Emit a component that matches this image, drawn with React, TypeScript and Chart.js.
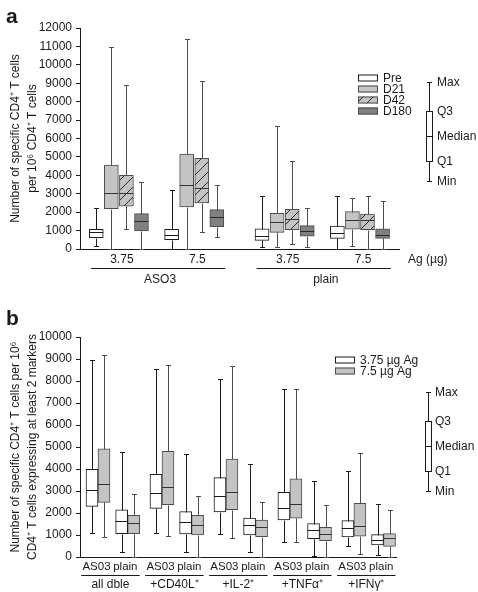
import React, { useEffect, useRef } from "react";
import { Chart, registerables } from "chart.js";

Chart.register(...registerables);

const FONT = "'Liberation Sans', Arial, Helvetica, sans-serif";
const INK = "#1a1a1a";
const GRAYLINE = "#4d4d4d";

// ---------------- Panel a data ----------------
const aDoseLabels = ["3.75", "7.5", "3.75", "7.5"];
const aAdjuvantLabels = ["ASO3", "plain"];
const aSeriesNames = ["Pre", "D21", "D42", "D180"];
// each box: [min, Q1, median, Q3, max]
const aPre = [[180, 620, 900, 1070, 2210], [0, 510, 780, 1070, 3200], [90, 470, 690, 1090, 2880], [0, 580, 870, 1250, 2900]];
const aD21 = [[0, 2190, 3040, 4560, 10970], [0, 2280, 3490, 5160, 11400], [130, 900, 1440, 1940, 6700], [180, 1070, 1560, 2030, 2750]];
const aD42 = [[1090, 2330, 3060, 4000, 8890], [940, 2500, 3330, 4920, 9140], [250, 1050, 1620, 2150, 4800], [0, 1050, 1570, 1900, 2900]];
const aD180 = [[0, 980, 1540, 1920, 3660], [630, 1210, 1740, 2140, 3480], [130, 690, 960, 1270, 2210], [0, 580, 780, 1090, 2590]];
const aYMax = 12000;
const aYStep = 1000;
const aYTitle = ["Number of specific CD4\u207A T cells", "per 10\u2076 CD4\u207A T cells"];
const aXUnit = "Ag (\u00B5g)";

// ---------------- Panel b data ----------------
const bGroupLabels = ["all dble", "+CD40L\u207A", "+IL-2\u207A", "+TNF\u03B1\u207A", "+IFN\u03B3\u207A"];
const bSubLabels = ["AS03", "plain"];
const bSeriesNames = ["3.75 \u00B5g Ag", "7.5 \u00B5g Ag"];
// order: group0 AS03, group0 plain, group1 AS03, ...; each box [min, Q1, median, Q3, max]
const bLowDose = [
  [1100, 2300, 3030, 3980, 8950], [230, 1060, 1620, 2140, 4790],
  [1090, 2210, 2920, 3760, 8550], [230, 1050, 1580, 2060, 4670],
  [1060, 2050, 2760, 3610, 8090], [240, 1000, 1470, 1770, 4210],
  [680, 1680, 2210, 2940, 7650], [30, 830, 1230, 1520, 3470],
  [480, 910, 1300, 1650, 3920], [80, 550, 760, 1020, 2390],
];
const bHighDose = [
  [920, 2480, 3300, 4920, 9200], [0, 1060, 1550, 1890, 2880],
  [940, 2380, 3170, 4800, 8730], [0, 1000, 1460, 1890, 2790],
  [860, 2150, 2970, 4450, 8670], [0, 920, 1350, 1680, 2520],
  [670, 1770, 2410, 3550, 7620], [0, 740, 1030, 1350, 2380],
  [150, 950, 1390, 2440, 4740], [0, 480, 850, 1060, 2120],
];
const bYMax = 10000;
const bYStep = 1000;
const bYTitle = ["Number of specific CD4\u207A T cells per 10\u2076", "CD4\u207A T cells expressing at least 2 markers"];

const keyLabels = ["Max", "Q3", "Median", "Q1", "Min"];

// ---------------- helpers ----------------
function makeHatch(bg: string, line: string): CanvasPattern | string {
  const size = 10;
  const c = document.createElement("canvas");
  c.width = size;
  c.height = size;
  const g = c.getContext("2d");
  if (!g) return bg;
  g.fillStyle = bg;
  g.fillRect(0, 0, size, size);
  g.strokeStyle = line;
  g.lineWidth = 1;
  g.beginPath();
  g.moveTo(0, size);
  g.lineTo(size, 0);
  g.moveTo(-2, 2);
  g.lineTo(2, -2);
  g.moveTo(size - 2, size + 2);
  g.lineTo(size + 2, size - 2);
  g.stroke();
  const p = g.createPattern(c, "repeat");
  return p || bg;
}

const boxPlugin = {
  id: "boxWhisker",
  afterDatasetsDraw(chart: any) {
    const ctx = chart.ctx;
    const yS = chart.scales.y;
    ctx.save();
    ctx.lineWidth = 1;
    chart.data.datasets.forEach((ds: any, di: number) => {
      const meta = chart.getDatasetMeta(di);
      meta.data.forEach((el: any, i: number) => {
        const st = ds.stats[i];
        const x = Math.round(el.x) + 0.5;
        const half = el.width / 2;
        const py = (v: number) => Math.round(yS.getPixelForValue(v)) + 0.5;
        const pMin = py(st[0]);
        const pQ1 = py(st[1]);
        const pMed = py(st[2]);
        const pQ3 = py(st[3]);
        const pMax = py(st[4]);
        ctx.strokeStyle = ds.whiskerColor;
        ctx.beginPath();
        ctx.moveTo(x, pQ3);
        ctx.lineTo(x, pMax);
        ctx.moveTo(x - 2.5, pMax);
        ctx.lineTo(x + 2.5, pMax);
        ctx.moveTo(x, pQ1);
        ctx.lineTo(x, pMin);
        ctx.moveTo(x - 2.5, pMin);
        ctx.lineTo(x + 2.5, pMin);
        ctx.stroke();
        ctx.strokeStyle = ds.medianColor;
        ctx.beginPath();
        ctx.moveTo(el.x - half, pMed);
        ctx.lineTo(el.x + half, pMed);
        ctx.stroke();
      });
    });
    ctx.restore();
  },
};

function drawKey(ctx: CanvasRenderingContext2D, x: number, ys: number[], labelX: number) {
  // ys: max, q3, median, q1, min
  ctx.save();
  ctx.strokeStyle = INK;
  ctx.lineWidth = 1;
  const cx = Math.round(x) + 0.5;
  ctx.beginPath();
  ctx.moveTo(cx, ys[0]);
  ctx.lineTo(cx, ys[1]);
  ctx.moveTo(cx - 2.5, ys[0] + 0.5);
  ctx.lineTo(cx + 2.5, ys[0] + 0.5);
  ctx.moveTo(cx, ys[3]);
  ctx.lineTo(cx, ys[4]);
  ctx.moveTo(cx - 2.5, ys[4] + 0.5);
  ctx.lineTo(cx + 2.5, ys[4] + 0.5);
  ctx.stroke();
  ctx.fillStyle = "#ffffff";
  ctx.fillRect(cx - 3, ys[1], 6, ys[3] - ys[1]);
  ctx.strokeRect(cx - 3, ys[1] + 0.5, 6, ys[3] - ys[1]);
  ctx.beginPath();
  ctx.moveTo(cx - 3, ys[2] + 0.5);
  ctx.lineTo(cx + 3, ys[2] + 0.5);
  ctx.stroke();
  ctx.fillStyle = INK;
  ctx.font = `12px ${FONT}`;
  ctx.textAlign = "left";
  ctx.textBaseline = "middle";
  keyLabels.forEach((t, i) => ctx.fillText(t, labelX, ys[i] + 1));
  ctx.restore();
}

function drawSwatch(ctx: CanvasRenderingContext2D, x: number, y: number, w: number, h: number, fill: any, border: string) {
  ctx.save();
  ctx.fillStyle = fill;
  ctx.fillRect(x, y, w, h);
  ctx.strokeStyle = border;
  ctx.lineWidth = 1;
  ctx.strokeRect(x + 0.5, y + 0.5, w - 1, h - 1);
  ctx.restore();
}

function yScaleOpts(max: number, step: number, title: string[]) {
  return {
    min: 0,
    max,
    ticks: {
      stepSize: step,
      color: INK,
      padding: 4,
      font: { family: FONT, size: 12 },
      callback: (v: any) => String(v),
    },
    grid: { display: true, drawOnChartArea: false, drawTicks: true, tickLength: 4, color: INK, lineWidth: 1 },
    border: { display: true, color: INK, width: 1 },
    title: {
      display: true,
      text: title,
      color: INK,
      font: { family: FONT, size: 12, lineHeight: 1.35 },
      padding: { top: 8, bottom: 0 },
    },
    afterFit: (s: any) => {
      s.width = 80;
    },
  };
}

export default function App() {
  const refA = useRef<HTMLCanvasElement>(null);
  const refB = useRef<HTMLCanvasElement>(null);

  useEffect(() => {
    document.body.style.margin = "0";
    const hatch = makeHatch("#c4c4c4", "#2a2a2a");

    // ---------- Panel a ----------
    const aSlot = (g: number, s: number) => g * 5 + (g >= 2 ? 1 : 0) + s;
    const aData = [aPre, aD21, aD42, aD180];
    const aStyles = [
      { fill: "#ffffff", border: INK, whisker: INK, median: INK },
      { fill: "#c4c4c4", border: GRAYLINE, whisker: GRAYLINE, median: "#333333" },
      { fill: hatch, border: GRAYLINE, whisker: GRAYLINE, median: "#333333" },
      { fill: "#808080", border: GRAYLINE, whisker: GRAYLINE, median: "#2a2a2a" },
    ];
    const aDatasets = aData.map((series, s) => ({
      type: "bar",
      label: aSeriesNames[s],
      data: series.map((v, g) => ({ x: aSlot(g, s), y: [v[1], v[3]] })),
      stats: series,
      backgroundColor: aStyles[s].fill,
      borderColor: aStyles[s].border,
      whiskerColor: aStyles[s].whisker,
      medianColor: aStyles[s].median,
      borderWidth: 1,
      borderSkipped: false,
      barThickness: 14,
      grouped: false,
    }));

    const aDecor = {
      id: "aDecor",
      afterDraw(chart: any) {
        const ctx = chart.ctx;
        const xS = chart.scales.x;
        const bottom = chart.chartArea.bottom;
        ctx.save();
        ctx.fillStyle = INK;
        ctx.font = `bold 21px ${FONT}`;
        ctx.textBaseline = "alphabetic";
        ctx.textAlign = "left";
        ctx.fillText("a", 6, 23);
        ctx.font = `12px ${FONT}`;
        ctx.textAlign = "center";
        ctx.textBaseline = "middle";
        aDoseLabels.forEach((t, g) => {
          ctx.fillText(t, xS.getPixelForValue(aSlot(g, 1.5)) + 3, bottom + 11);
        });
        ctx.strokeStyle = INK;
        ctx.lineWidth = 1;
        aAdjuvantLabels.forEach((t, k) => {
          const x0 = xS.getPixelForValue(aSlot(k * 2, 0) - 0.35);
          const x1 = xS.getPixelForValue(aSlot(k * 2 + 1, 3) + 0.55);
          const ly = Math.round(bottom + 19) + 0.5;
          ctx.beginPath();
          ctx.moveTo(x0, ly);
          ctx.lineTo(x1, ly);
          ctx.stroke();
          ctx.fillText(t, (x0 + x1) / 2 + 2, bottom + 31);
        });
        ctx.textAlign = "left";
        ctx.fillText(aXUnit, chart.chartArea.right + 9, bottom + 11);
        // legend
        const rows = [78, 89, 100, 111];
        aSeriesNames.forEach((n, s) => {
          drawSwatch(ctx, 358, rows[s] - 3.5, 20, 7, aStyles[s].fill, aStyles[s].border);
          ctx.fillStyle = INK;
          ctx.fillText(n, 383, rows[s] + 0.5);
        });
        ctx.restore();
        drawKey(ctx, 429, [82, 111, 136, 161, 181], 437);
      },
    };

    const chartA = new Chart(refA.current as HTMLCanvasElement, {
      type: "bar",
      data: { datasets: aDatasets as any },
      options: {
        responsive: false,
        animation: false,
        layout: { padding: { top: 28, right: 79, left: 0, bottom: 0 } },
        plugins: { legend: { display: false }, tooltip: { enabled: false } },
        scales: {
          x: {
            type: "linear",
            offset: false,
            min: -1.08,
            max: 20.09,
            grid: { display: false },
            ticks: { display: false },
            border: { display: true, color: INK, width: 1 },
            afterFit: (s: any) => {
              s.height = 51;
            },
          },
          y: yScaleOpts(aYMax, aYStep, aYTitle) as any,
        },
      } as any,
      plugins: [boxPlugin, aDecor],
    });

    // ---------- Panel b ----------
    const bPos = (idx: number, dose: number) => {
      const g = Math.floor(idx / 2);
      const sub = idx % 2;
      return g * 5.33 + sub * 2.47 + dose;
    };
    const bData = [bLowDose, bHighDose];
    const bStyles = [
      { fill: "#ffffff", border: INK, whisker: INK, median: INK },
      { fill: "#c4c4c4", border: GRAYLINE, whisker: GRAYLINE, median: "#333333" },
    ];
    const bDatasets = bData.map((series, d) => ({
      type: "bar",
      label: bSeriesNames[d],
      data: series.map((v, i) => ({ x: bPos(i, d), y: [v[1], v[3]] })),
      stats: series,
      backgroundColor: bStyles[d].fill,
      borderColor: bStyles[d].border,
      whiskerColor: bStyles[d].whisker,
      medianColor: bStyles[d].median,
      borderWidth: 1,
      borderSkipped: false,
      barThickness: 12,
      grouped: false,
    }));

    const bDecor = {
      id: "bDecor",
      afterDraw(chart: any) {
        const ctx = chart.ctx;
        const xS = chart.scales.x;
        const bottom = chart.chartArea.bottom;
        ctx.save();
        ctx.fillStyle = INK;
        ctx.font = `bold 21px ${FONT}`;
        ctx.textBaseline = "alphabetic";
        ctx.textAlign = "left";
        ctx.fillText("b", 6, 25);
        ctx.font = `11.5px ${FONT}`;
        ctx.textAlign = "center";
        ctx.textBaseline = "middle";
        for (let i = 0; i < bLowDose.length; i++) {
          const c = xS.getPixelForValue(bPos(i, 0.5));
          ctx.fillText(bSubLabels[i % 2], c + (i % 2 === 0 ? -1.5 : -2.3), bottom + 10);
        }
        ctx.font = `12px ${FONT}`;
        ctx.strokeStyle = INK;
        ctx.lineWidth = 1;
        bGroupLabels.forEach((t, g) => {
          const x0 = xS.getPixelForValue(bPos(g * 2, 0) - 0.9);
          const x1 = xS.getPixelForValue(bPos(g * 2 + 1, 1) + 0.5);
          const ly = Math.round(bottom + 18) + 0.5;
          ctx.beginPath();
          ctx.moveTo(x0, ly);
          ctx.lineTo(x1, ly);
          ctx.stroke();
          ctx.fillText(t, (x0 + x1) / 2, bottom + 28);
        });
        // legend
        ctx.textAlign = "left";
        const rows = [60, 71];
        bSeriesNames.forEach((n, d) => {
          drawSwatch(ctx, 335, rows[d] - 3.5, 20, 7, bStyles[d].fill, bStyles[d].border);
          ctx.fillStyle = INK;
          ctx.fillText(n, 360, rows[d] + 0.5);
        });
        ctx.restore();
        drawKey(ctx, 428, [92, 121, 146, 171, 191], 435);
      },
    };

    const chartB = new Chart(refB.current as HTMLCanvasElement, {
      type: "bar",
      data: { datasets: bDatasets as any },
      options: {
        responsive: false,
        animation: false,
        layout: { padding: { top: 37, right: 82, left: 0, bottom: 0 } },
        plugins: { legend: { display: false }, tooltip: { enabled: false } },
        scales: {
          x: {
            type: "linear",
            offset: false,
            min: -1.0,
            max: 25.33,
            grid: { display: false },
            ticks: { display: false },
            border: { display: true, color: INK, width: 1 },
            afterFit: (s: any) => {
              s.height = 35;
            },
          },
          y: yScaleOpts(bYMax, bYStep, bYTitle) as any,
        },
      } as any,
      plugins: [boxPlugin, bDecor],
    });

    return () => {
      chartA.destroy();
      chartB.destroy();
    };
  }, []);

  return (
    <div style={{ position: "relative", width: 478, height: 592, background: "#ffffff" }}>
      <canvas ref={refA} width={478} height={300} style={{ position: "absolute", left: 0, top: 0, display: "block" }} />
      <canvas ref={refB} width={478} height={292} style={{ position: "absolute", left: 0, top: 300, display: "block" }} />
    </div>
  );
}
